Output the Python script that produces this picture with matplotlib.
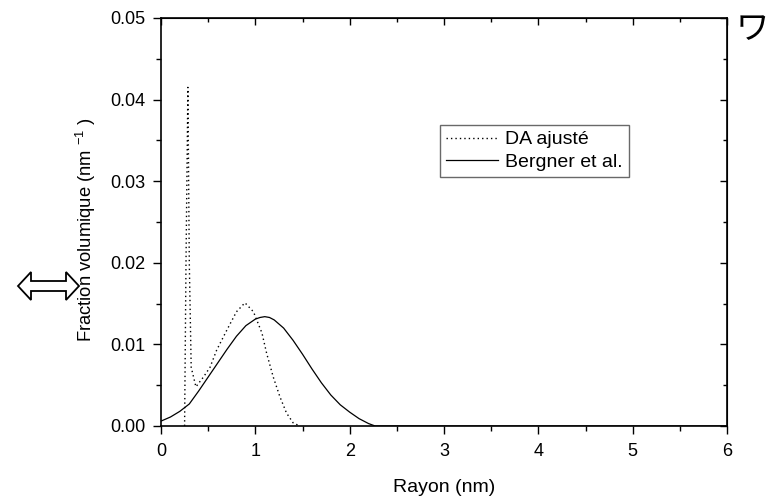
import matplotlib
matplotlib.use("Agg")
import matplotlib.pyplot as plt
from matplotlib.patches import Polygon
from matplotlib.ticker import MultipleLocator

plt.rcParams['font.family'] = ['Liberation Sans', 'DejaVu Sans']
plt.rcParams['mathtext.fontset'] = 'custom'
plt.rcParams['mathtext.rm'] = 'Liberation Sans'
plt.rcParams['mathtext.it'] = 'Liberation Sans'

# DA ajusté (dotted)
da_r = [0.25, 0.265, 0.285, 0.30, 0.32, 0.37, 0.45, 0.52, 0.59, 0.70, 0.80, 0.89,
        0.98, 1.07, 1.12, 1.19, 1.26, 1.33, 1.40, 1.47]
da_v = [0.0, 0.020, 0.0415, 0.020, 0.0072, 0.0048, 0.0060, 0.0072, 0.0093, 0.0118,
        0.0140, 0.0151, 0.0140, 0.0114, 0.0089, 0.0060, 0.0036, 0.0016, 0.0004, 0.0]

# Bergner et al. (solid)
bg_r = [0.0, 0.1, 0.2, 0.3, 0.4, 0.5, 0.6, 0.7, 0.8, 0.9, 1.0, 1.05, 1.1, 1.15, 1.2,
        1.3, 1.4, 1.5, 1.6, 1.7, 1.8, 1.9, 2.0, 2.1, 2.2, 2.27, 6.0]
bg_v = [0.0006, 0.0011, 0.0018, 0.0027, 0.0043, 0.0060, 0.0077, 0.0094, 0.0110,
        0.0123, 0.0131, 0.0133, 0.0134, 0.0133, 0.0130, 0.0120, 0.0105, 0.0088,
        0.0070, 0.0053, 0.0038, 0.0026, 0.0017, 0.0009, 0.0003, 0.0, 0.0]

xticks = [0, 1, 2, 3, 4, 5, 6]
yticks = [0.00, 0.01, 0.02, 0.03, 0.04, 0.05]

fig = plt.figure(figsize=(7.73, 4.97), dpi=100)
ax = fig.add_axes([161/773, 1-426/497, (727-161)/773, (426-18)/497])

ax.plot(da_r, da_v, color='black', linestyle=(0, (1, 2.2)), linewidth=1.0, label='DA ajusté')
ax.plot(bg_r, bg_v, color='black', linestyle='-', linewidth=0.9, label='Bergner et al.')

ax.set_xlim(0, 6)
ax.set_ylim(0, 0.05)
ax.set_xticks(xticks)
ax.set_yticks(yticks)
ax.set_xticklabels([str(t) for t in xticks])
ax.set_yticklabels([f"{t:.2f}" for t in yticks])
ax.xaxis.set_minor_locator(MultipleLocator(0.5))
ax.yaxis.set_minor_locator(MultipleLocator(0.005))
ax.tick_params(which='major', direction='out', length=6, width=1.0, labelsize=13, pad=5)
ax.tick_params(axis='x', which='major', pad=6)
ax.tick_params(which='minor', direction='out', length=3.5, width=1.0)
for s in ax.spines.values():
    s.set_linewidth(1.2)

# inward ticks on top and right
secx = ax.secondary_xaxis('top')
secx.set_xticks(xticks)
secx.xaxis.set_minor_locator(MultipleLocator(0.5))
secx.tick_params(which='major', direction='in', length=5, width=1.0, labeltop=False)
secx.tick_params(which='minor', direction='in', length=3, width=1.0)
secy = ax.secondary_yaxis('right')
secy.set_yticks(yticks)
secy.yaxis.set_minor_locator(MultipleLocator(0.005))
secy.tick_params(which='major', direction='in', length=5, width=1.0, labelright=False)
secy.tick_params(which='minor', direction='in', length=3, width=1.0)

ax.set_xlabel('Rayon (nm)', fontsize=14, labelpad=14)
ax.set_ylabel('Fraction volumique (nm $^{-1}$ )', fontsize=13.2)
ax.yaxis.set_label_coords(-0.112, 0.48)

leg = ax.legend(loc='upper left', bbox_to_anchor=((440-161)/566, (426-125)/408),
                fontsize=14, frameon=True, fancybox=False, edgecolor='#444444',
                handlelength=2.7, handletextpad=0.35, borderpad=0.3, labelspacing=0.25,
                borderaxespad=0)
leg.get_frame().set_linewidth(1.0)

# hollow double arrow decoration at left
W, H = 773, 497
cy = 286
pts = [(18, cy), (31, cy-14), (31, cy-5), (66, cy-5), (66, cy-14), (79, cy),
       (66, cy+14), (66, cy+5), (31, cy+5), (31, cy+14)]
poly = Polygon([(x/W, 1-y/H) for x, y in pts], closed=True, fill=False,
               edgecolor='black', linewidth=1.3, transform=fig.transFigure)
fig.patches.append(poly)

fig.text(752/W, 1-30/H, 'ワ', fontsize=24, family=['Noto Sans CJK JP', 'DejaVu Sans'],
         ha='center', va='center')

fig.savefig('out.png', dpi=100)
